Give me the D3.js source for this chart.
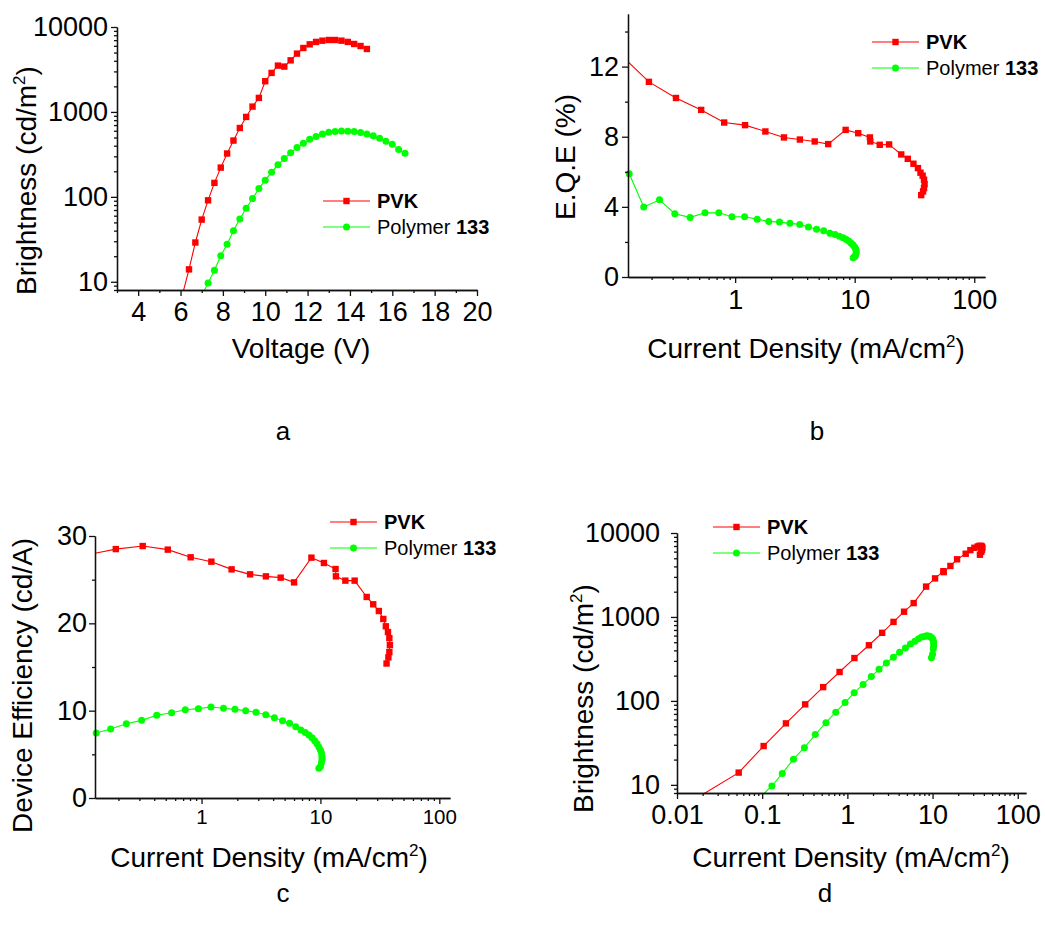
<!DOCTYPE html>
<html><head><meta charset="utf-8">
<script src="https://cdn.jsdelivr.net/npm/d3@7"></script>
<style>
body{margin:0;background:#fff}
svg{display:block}
text{font-family:"Liberation Sans",Arial,sans-serif}
</style>
</head><body>
<svg id="chart" width="1045" height="931"></svg>
<script>
// ---------- DATA ----------
const seriesNames = ["PVK", "Polymer 133"];
const panelLetters = ["a", "b", "c", "d"];

const pvkVoltage = [6.1,6.4,6.7,7.0,7.3,7.6,7.9,8.2,8.5,8.8,9.1,9.4,9.7,10.0,10.3,10.6,10.9,11.2,11.5,11.8,12.1,12.4,12.7,13.0,13.3,13.6,13.9,14.2,14.5,14.8];
const pvkCurrent = [0.018,0.053,0.104,0.19,0.32,0.52,0.81,1.21,1.79,2.56,3.48,4.63,6.0,8.4,10.7,13.4,13.5,16.2,19.4,24.5,27.8,31.0,33.8,35.5,37.0,38.0,38.4,38.0,37.3,36.0];
const pvkBrightness = [7.2,14,29,54,91,146,221,324,460,647,873,1155,1462,2300,2880,3510,3420,4050,4860,5660,6250,6670,6900,7030,7030,6900,6670,6310,5970,5510];
const pvkEQE = [null,null,12.85,11.13,10.21,9.53,8.81,8.66,8.30,7.96,7.84,7.73,7.58,8.39,8.20,7.96,7.73,7.54,7.56,6.99,6.74,6.46,6.21,5.95,5.78,5.55,5.30,5.07,4.88,4.67];
const pvkEfficiency = [null,null,27.8,28.5,28.85,28.44,27.56,27.06,26.18,25.61,25.38,25.23,24.69,27.52,26.91,26.22,25.38,24.89,24.89,23.02,22.18,21.41,20.5,19.66,19.0,18.3,17.5,16.7,16.1,15.4];

const polyVoltage = [7.0,7.3,7.6,7.9,8.2,8.5,8.8,9.1,9.4,9.7,10.0,10.3,10.6,10.9,11.2,11.5,11.8,12.1,12.4,12.7,13.0,13.3,13.6,13.9,14.2,14.5,14.8,15.1,15.4,15.7,16.0,16.3,16.6];
const polyCurrent = [0.09,0.13,0.172,0.233,0.313,0.42,0.56,0.73,0.94,1.2,1.53,1.91,2.35,2.87,3.47,4.1,4.8,5.5,6.2,6.85,7.45,8.0,8.5,8.95,9.35,9.7,10.0,10.2,10.3,10.3,10.2,10.0,9.7];
const polyBrightness = [6.8,9.7,13.7,20.2,27.7,39.8,55,73.5,95.5,125,157,195,238,282,331,380,428,477,513,551,577,587,597,593,587,571,551,525,489,452,417,360,327];
const polyEQE = [null,5.89,3.99,4.40,3.61,3.40,3.66,3.66,3.44,3.44,3.30,3.17,3.13,3.06,3.00,2.85,2.72,2.64,2.50,2.42,2.33,2.24,2.14,2.04,1.93,1.82,1.70,1.60,1.48,1.37,1.27,1.16,1.10];
const polyEfficiency = [null,7.44,7.9,8.51,8.89,9.47,9.77,10.11,10.23,10.42,10.27,10.15,10.0,9.81,9.54,9.2,8.85,8.55,8.17,7.8,7.5,7.2,6.9,6.55,6.2,5.85,5.5,5.15,4.75,4.4,4.05,3.6,3.4];

const voltageTicks = [4,6,8,10,12,14,16,18,20];
const voltageMinor = [3,5,7,9,11,13,15,17,19];
const brightnessTicks = [10,100,1000,10000];
const currentTicksBC = [1,10,100];
const currentTicksD = [0.01,0.1,1,10,100];
const eqeTicks = [0,4,8,12];
const eqeMinor = [2,6,10,14];
const effTicks = [0,10,20,30];
const effMinor = [5,15,25];

// ---------- DRAWING ----------
const svg = d3.select("#chart");
const RED = "#ff0000", GREEN = "#00ff00";
const TITLE_FS = 28, TICK_FS = 27;
const defs = svg.append("defs");

function logMinor(domain) {
  const out = [];
  const lo = Math.floor(Math.log10(domain[0])), hi = Math.ceil(Math.log10(domain[1]));
  for (let k = lo; k <= hi; k++) for (let m = 2; m <= 9; m++) {
    const v = m * Math.pow(10, k);
    if (v >= domain[0] * 0.999 && v <= domain[1] * 1.001) out.push(v);
  }
  return out;
}
function fmt(v) { return String(v); }

function drawPanel(o) {
  const g = svg.append("g");
  const x = (o.xLog ? d3.scaleLog() : d3.scaleLinear()).domain(o.xDomain).range(o.xRange);
  const y = (o.yLog ? d3.scaleLog() : d3.scaleLinear()).domain(o.yDomain).range(o.yRange);
  const clipId = "clip-" + o.id;
  defs.append("clipPath").attr("id", clipId).append("rect")
    .attr("x", o.xRange[0]).attr("y", o.yRange[1])
    .attr("width", o.xRange[1] - o.xRange[0]).attr("height", o.yRange[0] - o.yRange[1]);

  const inDom = (v, d) => v >= Math.min(d[0], d[1]) && v <= Math.max(d[0], d[1]);

  o.series.forEach(s => {
    const pts = s.xs.map((xv, i) => [xv, s.ys[i]]).filter(p => p[0] != null && p[1] != null);
    g.append("path").datum(pts)
      .attr("clip-path", `url(#${clipId})`)
      .attr("fill", "none").attr("stroke", s.color).attr("stroke-width", 1.1)
      .attr("d", d3.line().x(p => x(p[0])).y(p => y(p[1])));
    const vis = pts.filter(p => inDom(p[0], o.xDomain) && inDom(p[1], o.yDomain));
    if (s.shape === "square") {
      g.selectAll(null).data(vis).enter().append("rect")
        .attr("x", p => x(p[0]) - 3.2).attr("y", p => y(p[1]) - 3.2)
        .attr("width", 6.4).attr("height", 6.4).attr("fill", s.color);
    } else {
      g.selectAll(null).data(vis).enter().append("circle")
        .attr("cx", p => x(p[0])).attr("cy", p => y(p[1])).attr("r", 3.5).attr("fill", s.color);
    }
  });

  function styleAxis(sel, fs) {
    sel.selectAll("path,line").attr("stroke", "#111").attr("stroke-width", 1.3);
    sel.selectAll("text").attr("font-size", fs).attr("fill", "#000")
      .attr("font-family", '"Liberation Sans", Arial, sans-serif');
  }
  const xMinorAx = g.append("g").attr("transform", `translate(0,${o.yRange[0]})`)
    .call(d3.axisBottom(x).tickValues(o.xMinor).tickSize(3).tickSizeOuter(0).tickFormat(""));
  styleAxis(xMinorAx, 0);
  const xAx = g.append("g").attr("transform", `translate(0,${o.yRange[0]})`)
    .call(d3.axisBottom(x).tickValues(o.xTicks).tickSize(6).tickSizeOuter(0).tickPadding(o.xPad).tickFormat(fmt));
  styleAxis(xAx, o.xFont);
  const yMinorAx = g.append("g").attr("transform", `translate(${o.xRange[0]},0)`)
    .call(d3.axisLeft(y).tickValues(o.yMinor).tickSize(3).tickSizeOuter(0).tickFormat(""));
  styleAxis(yMinorAx, 0);
  const yAx = g.append("g").attr("transform", `translate(${o.xRange[0]},0)`)
    .call(d3.axisLeft(y).tickValues(o.yTicks).tickSize(6).tickSizeOuter(0).tickPadding(o.yPad).tickFormat(fmt));
  styleAxis(yAx, o.yFont);

  const xt = g.append("text").attr("x", o.xTitle[0]).attr("y", o.xTitle[1])
    .attr("text-anchor", "middle").attr("font-size", TITLE_FS);
  o.xTitleParts.forEach(p => {
    const t = xt.append("tspan").text(p.t);
    if (p.sup) t.attr("dy", -11).attr("font-size", 17);
    if (p.after) t.attr("dy", 11);
  });
  const yt = g.append("text").attr("transform", `translate(${o.yTitle[0]},${o.yTitle[1]}) rotate(-90)`)
    .attr("text-anchor", "start").attr("font-size", TITLE_FS);
  o.yTitleParts.forEach(p => {
    const t = yt.append("tspan").text(p.t);
    if (p.sup) t.attr("dy", -11).attr("font-size", 17);
    if (p.after) t.attr("dy", 11);
  });

  o.series.forEach((s, i) => {
    const ly = o.legend[1] + i * 26, lx = o.legend[0];
    g.append("line").attr("x1", lx).attr("x2", lx + 47).attr("y1", ly).attr("y2", ly)
      .attr("stroke", s.color).attr("stroke-width", 1.1);
    if (s.shape === "square") g.append("rect").attr("x", lx + 23.5 - 3.2).attr("y", ly - 3.2)
      .attr("width", 6.4).attr("height", 6.4).attr("fill", s.color);
    else g.append("circle").attr("cx", lx + 23.5).attr("cy", ly).attr("r", 3.5).attr("fill", s.color);
    const lt = g.append("text").attr("x", lx + 54).attr("y", ly + 7).attr("font-size", 20);
    const name = seriesNames[i];
    if (i === 0) lt.append("tspan").attr("font-weight", "bold").text(name);
    else {
      const parts = name.split(" ");
      lt.append("tspan").text(parts[0] + " ");
      lt.append("tspan").attr("font-weight", "bold").text(parts[1]);
    }
  });

  g.append("text").attr("x", o.letter[0]).attr("y", o.letter[1]).attr("text-anchor", "middle")
    .attr("font-family", '"Liberation Serif", "Times New Roman", serif').attr("font-size", 26)
    .text(o.letterText);
}

const brightTitle = [{t: "Brightness (cd/m"}, {t: "2", sup: true}, {t: ")", after: true}];
const currentTitle = [{t: "Current Density (mA/cm"}, {t: "2", sup: true}, {t: ")", after: true}];

drawPanel({
  id: "a", letterText: panelLetters[0], letter: [283, 440],
  xLog: false, xDomain: [3, 20], xRange: [117, 477],
  yLog: true, yDomain: [8, 10000], yRange: [290, 27],
  xTicks: voltageTicks, xMinor: voltageMinor, yTicks: brightnessTicks, yMinor: logMinor([8, 10000]),
  xFont: TICK_FS, yFont: TICK_FS, xPad: 6, yPad: 3,
  series: [
    {xs: pvkVoltage, ys: pvkBrightness, color: RED, shape: "square"},
    {xs: polyVoltage, ys: polyBrightness, color: GREEN, shape: "circle"}
  ],
  legend: [323, 201],
  xTitle: [301, 358], xTitleParts: [{t: "Voltage (V)"}],
  yTitle: [36, 295], yTitleParts: brightTitle
});

drawPanel({
  id: "b", letterText: panelLetters[1], letter: [817, 440],
  xLog: true, xDomain: [0.127, 123], xRange: [628, 985],
  yLog: false, yDomain: [0, 15], yRange: [277, 14],
  xTicks: currentTicksBC, xMinor: logMinor([0.127, 123]), yTicks: eqeTicks, yMinor: eqeMinor,
  xFont: TICK_FS, yFont: TICK_FS, xPad: 7, yPad: 3,
  series: [
    {xs: pvkCurrent, ys: pvkEQE, color: RED, shape: "square"},
    {xs: polyCurrent, ys: polyEQE, color: GREEN, shape: "circle"}
  ],
  legend: [872, 42],
  xTitle: [806, 358], xTitleParts: currentTitle,
  yTitle: [575, 220], yTitleParts: [{t: "E.Q.E (%)"}]
});

drawPanel({
  id: "c", letterText: panelLetters[2], letter: [283, 902],
  xLog: true, xDomain: [0.127, 123], xRange: [95, 450],
  yLog: false, yDomain: [0, 30], yRange: [798, 536],
  xTicks: currentTicksBC, xMinor: logMinor([0.127, 123]), yTicks: effTicks, yMinor: effMinor,
  xFont: 20.5, yFont: TICK_FS, xPad: 5, yPad: 2,
  series: [
    {xs: pvkCurrent, ys: pvkEfficiency, color: RED, shape: "square"},
    {xs: polyCurrent, ys: polyEfficiency, color: GREEN, shape: "circle"}
  ],
  legend: [330, 522],
  xTitle: [269, 867], xTitleParts: currentTitle,
  yTitle: [32, 833], yTitleParts: [{t: "Device Efficiency (cd/A)"}]
});

drawPanel({
  id: "d", letterText: panelLetters[3], letter: [825, 902],
  xLog: true, xDomain: [0.01, 125], xRange: [677, 1026],
  yLog: true, yDomain: [8, 10000], yRange: [793, 533],
  xTicks: currentTicksD, xMinor: logMinor([0.01, 125]), yTicks: brightnessTicks, yMinor: logMinor([8, 10000]),
  xFont: TICK_FS, yFont: TICK_FS, xPad: 6, yPad: 11,
  series: [
    {xs: pvkCurrent, ys: pvkBrightness, color: RED, shape: "square"},
    {xs: polyCurrent, ys: polyBrightness, color: GREEN, shape: "circle"}
  ],
  legend: [713, 527],
  xTitle: [851, 867], xTitleParts: currentTitle,
  yTitle: [593, 813], yTitleParts: brightTitle
});
</script>
</body></html>
